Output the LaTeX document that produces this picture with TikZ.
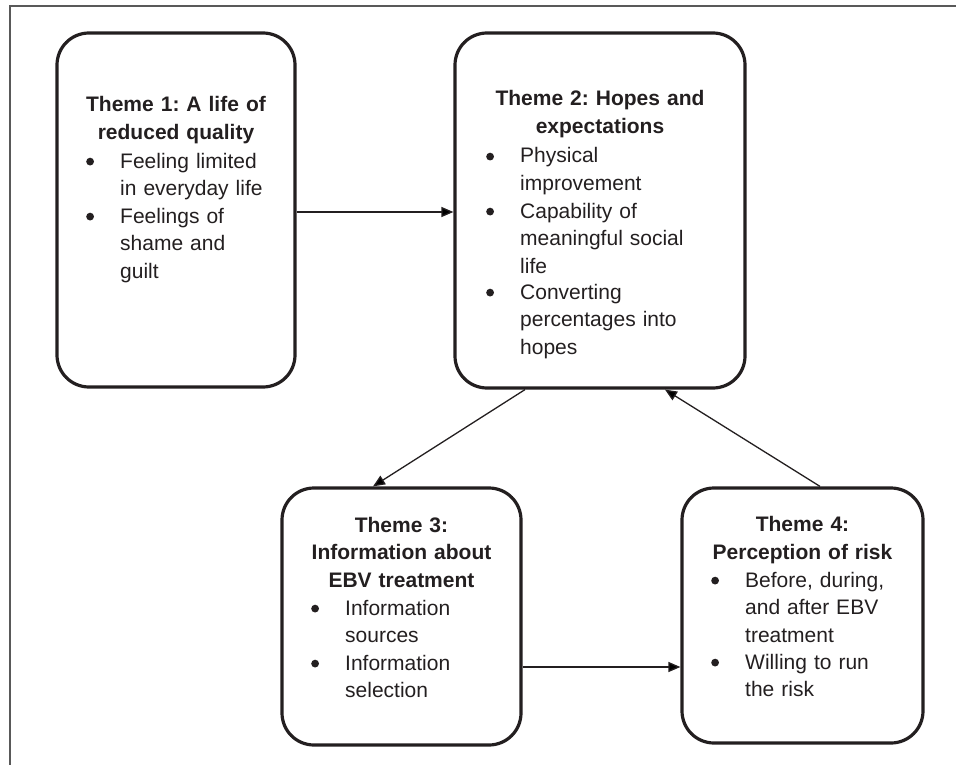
\documentclass[tikz,border=0pt]{standalone}
\usepackage{fontspec}
\setmainfont{Liberation Sans}
\usetikzlibrary{arrows.meta,calc}
\definecolor{ink}{HTML}{231F20}
\frenchspacing
\begin{document}
\begin{tikzpicture}[x=1pt,y=-1pt,
  themebox/.style={draw=ink,line width=3.2pt,rounded corners=32pt,inner sep=0pt},
  ttl/.style={text=ink,font=\fontsize{21}{27.7}\selectfont\bfseries,align=center,text width=230pt,anchor=base,inner sep=0pt},
  item/.style={text=ink,font=\fontsize{21}{27.7}\selectfont,align=left,text width=200pt,anchor=base west,inner sep=0pt},
  conn/.style={draw=ink,line width=1.3pt,-{Triangle[length=12pt,width=10pt]}}]
\useasboundingbox (0,0) rectangle (956,765);
\newcommand\bul{\leavevmode\llap{\makebox[34pt][l]{\raisebox{2.5pt}{\tikz[x=1pt,y=1pt]\fill[ink] (0,0) circle (3.9pt);}}}}
% frame
\draw[line width=1.2pt,color=black!65] (10,765) -- (10,6) -- (956,6);
% boxes
\node[themebox,minimum width=238pt,minimum height=354pt] (b1) at (176,210) {};
\node[themebox,minimum width=290pt,minimum height=355pt] (b2) at (600,210.5) {};
\node[themebox,minimum width=239pt,minimum height=257pt] (b3) at (401.5,616.5) {};
\node[themebox,minimum width=241pt,minimum height=255pt] (b4) at (802.5,615.5) {};
% box 1
\node[ttl] (t1) at (176,112) {Theme 1: A life of\\reduced quality};
\node[item] (i1a) at (120,168) {\bul Feeling limited\\in everyday life};
\node[item] (i1b) at (120,223) {\bul Feelings of\\shame and\\guilt};
% box 2
\node[ttl] (t2) at (600,106) {Theme 2: Hopes and\\expectations};
\node[item] (i2a) at (520,163) {\bul Physical\\improvement};
\node[item] (i2b) at (520,218) {\bul Capability of\\meaningful social\\life};
\node[item] (i2c) at (520,299) {\bul Converting\\percentages into\\hopes};
% box 3
\node[ttl] (t3) at (401.5,532) {Theme 3:\\Information about\\EBV treatment};
\node[item] (i3a) at (345,615) {\bul Information\\sources};
\node[item] (i3b) at (345,670) {\bul Information\\selection};
% box 4
\node[ttl] (t4) at (802.5,531.5) {Theme 4:\\Perception of risk};
\node[item] (i4a) at (745,587) {\bul Before, during,\\and after EBV\\treatment};
\node[item] (i4b) at (745,669) {\bul Willing to run\\the risk};
% connectors
\draw[conn] ($(b1.east)+(0,2)$) -- ($(b2.west)+(0,1.5)$);
\draw[conn] ($(b2.south)+(-75,0)$) -- ($(b3.north)+(-28.5,0)$);
\draw[conn] ($(b4.north)+(17.5,0)$) -- ($(b2.south)+(65,0)$);
\draw[conn] ($(b3.east)+(0,50.5)$) -- ($(b4.west)+(0,51.5)$);
\end{tikzpicture}
\end{document}
